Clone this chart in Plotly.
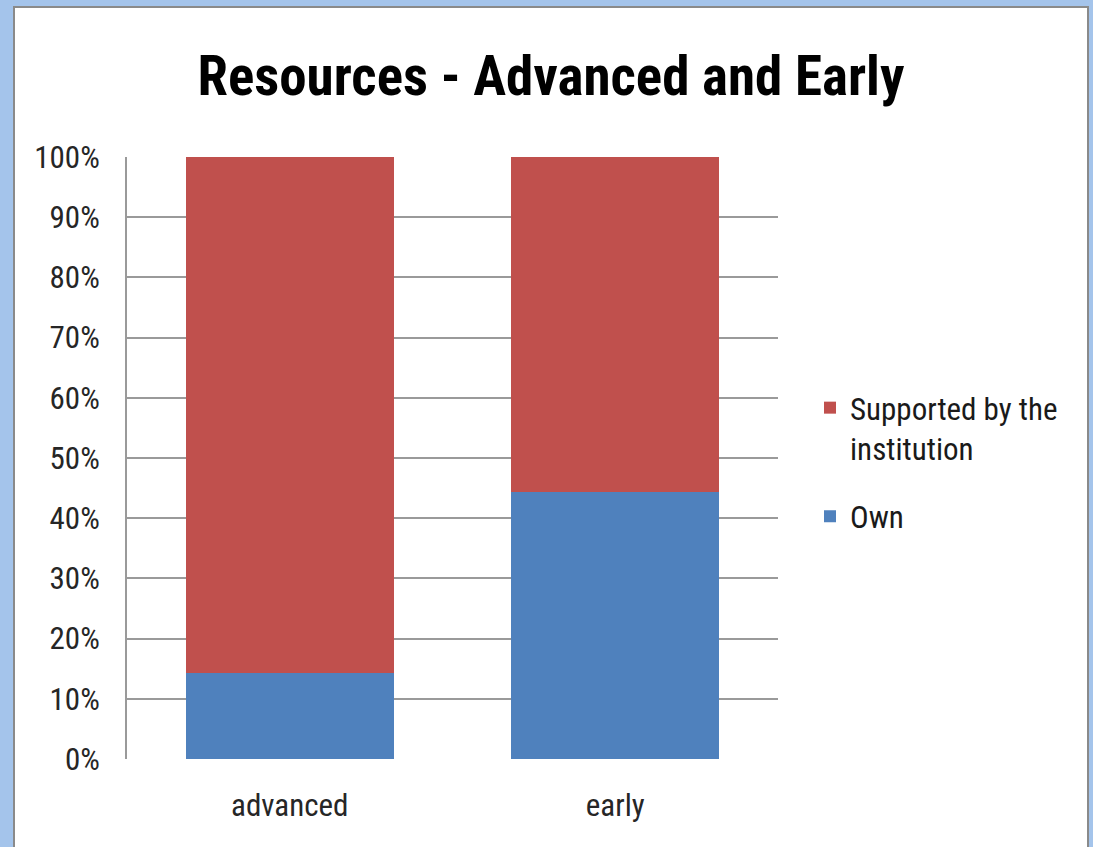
import plotly.graph_objects as go

categories = ["advanced", "early"]
own = [14.3, 44.4]
supported = [85.7, 55.6]
tick_vals = [0, 10, 20, 30, 40, 50, 60, 70, 80, 90, 100]
tick_text = [f"{v}%" for v in tick_vals]

W, H = 1093, 847
L, R, T, B = 127, 315, 157, 88
pw, ph = W - L - R, H - T - B

def px_x(x):
    return (x - L) / pw

def px_y(y):
    return (H - B - y) / ph

FONT = "Liberation Sans Narrow, Arial Narrow, Roboto Condensed, Open Sans"

fig = go.Figure()
fig.add_trace(go.Bar(x=categories, y=own, name="Own", marker_color="#4F81BD",
                     marker_line_width=0, width=0.64, legendgroup="own",
                     legendrank=2))
fig.add_trace(go.Bar(x=categories, y=supported, name="Supported by the<br>institution",
                     marker_color="#C0504D", marker_line_width=0, width=0.64,
                     legendgroup="inst", legendrank=1))

# white chart panel with a grey edge on the blue window background
fig.add_shape(type="rect", xref="paper", yref="paper",
              x0=px_x(14), x1=px_x(1088), y0=px_y(860), y1=px_y(7),
              fillcolor="white", line=dict(color="#8a8a8a", width=2), layer="below")

fig.update_layout(
    width=W, height=H,
    margin=dict(l=L, r=R, t=T, b=B, autoexpand=False),
    paper_bgcolor="#A4C4EB",
    plot_bgcolor="white",
    barmode="stack",
    bargap=0.36,
    font=dict(family=FONT, color="#1a1a1a", size=31),
    title=dict(text="<b>Resources - Advanced and Early</b>",
               font=dict(family=FONT, size=55, color="black"),
               x=px_x(551), xanchor="center", xref="paper",
               y=1 - 76 / H, yanchor="middle"),
    xaxis=dict(showgrid=False, showline=False, ticks="", ticklabelstandoff=25,
               tickfont=dict(size=31, color="#262626")),
    yaxis=dict(range=[0, 100], tickvals=tick_vals, ticktext=tick_text,
               showgrid=True, gridcolor="#9a9a9a", gridwidth=2,
               showline=True, linecolor="#9a9a9a", linewidth=2,
               zeroline=False, ticks="", ticklabelstandoff=19,
               tickfont=dict(size=31, color="#262626")),
    legend=dict(x=px_x(810), y=px_y(381), xanchor="left", yanchor="top",
                traceorder="grouped", font=dict(size=31, color="#1a1a1a"),
                tracegroupgap=25, valign="top", itemsizing="constant",
                bgcolor="rgba(0,0,0,0)"),
    showlegend=True,
)

fig.write_html("out.html")
